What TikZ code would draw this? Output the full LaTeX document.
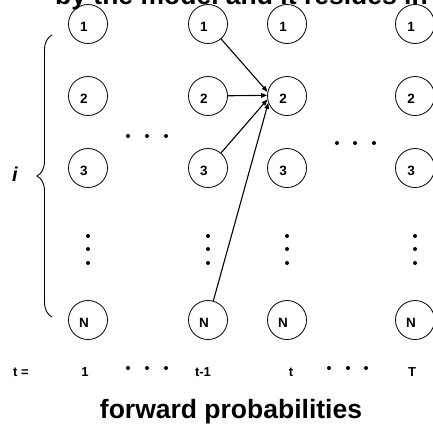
\documentclass[tikz,border=0pt]{standalone}
\usepackage{fontspec}
\setmainfont{Liberation Sans}
\usetikzlibrary{arrows.meta,decorations.pathreplacing}
\tikzset{
  state/.style={circle,draw,line width=0.8pt,minimum size=39pt,inner sep=0pt},
  num/.style={font=\fontsize{13.5}{14}\selectfont\bfseries,xshift=-4pt,yshift=-3pt},
  dotmark/.style={circle,fill,inner sep=0pt,minimum size=4pt},
  lbl/.style={font=\fontsize{13}{14}\selectfont\bfseries,anchor=base},
  arr/.style={-{Triangle[length=6pt,width=4.5pt]},line width=1.1pt},
  big/.style={font=\fontsize{26.5}{28}\selectfont\bfseries}
}
\begin{document}
\begin{tikzpicture}[x=1pt,y=-1pt]
\useasboundingbox (0,0) rectangle (433,424);
\clip (0,0) rectangle (433,424);
% partially visible heading
\node[big,anchor=base west,inner sep=0pt] (heading) at (55,4) {by the model and it resides in};
% states
\foreach \c/\x in {1/88,2/208,3/287,4/415}{
  \foreach \r/\y in {1/24,2/96,3/168,N/320}{
    \node[state,label={[num]center:\r}] (c\c r\r) at (\x,\y) {};
  }
  \foreach \k/\y in {1/236,2/249,3/263}{
    \node[dotmark] (v\c d\k) at (\x,\y) {};
  }
}
% horizontal dots
\foreach \k/\x in {1/128,2/147,3/166}{
  \node[dotmark] (ha\k) at (\x,136) {};
  \node[dotmark] (ba\k) at (\x,368) {};
}
\foreach \k/\x in {1/337,2/355,3/374}{
  \node[dotmark] (hb\k) at (\x,143) {};
}
\foreach \k/\x in {1/329,2/348,3/366}{
  \node[dotmark] (bb\k) at (\x,368) {};
}
% bottom labels
\node[lbl] (teq) at (21,376) {t =};
\node[lbl] (t1) at (85,376) {1};
\node[lbl] (tm1) at (203,376) {t-1};
\node[lbl] (tt) at (291,376) {t};
\node[lbl] (tT) at (412,376) {T};
% brace and i
\draw[decorate,decoration={brace,amplitude=15pt},line width=0.9pt] (52,317) -- (52,35);
\node[font=\fontsize{20}{22}\selectfont\bfseries\itshape] (ilabel) at (15,174) {i};
% arrows
\draw[arr] (c2r1) -- (c3r2.168);
\draw[arr] (c2r2) -- (c3r2.178);
\draw[arr] (c2r3) -- (c3r2.190);
\draw[arr] (c2rN) -- (c3r2.200);
% title
\node[big,anchor=base] (title) at (231,418) {forward probabilities};
\end{tikzpicture}
\end{document}
